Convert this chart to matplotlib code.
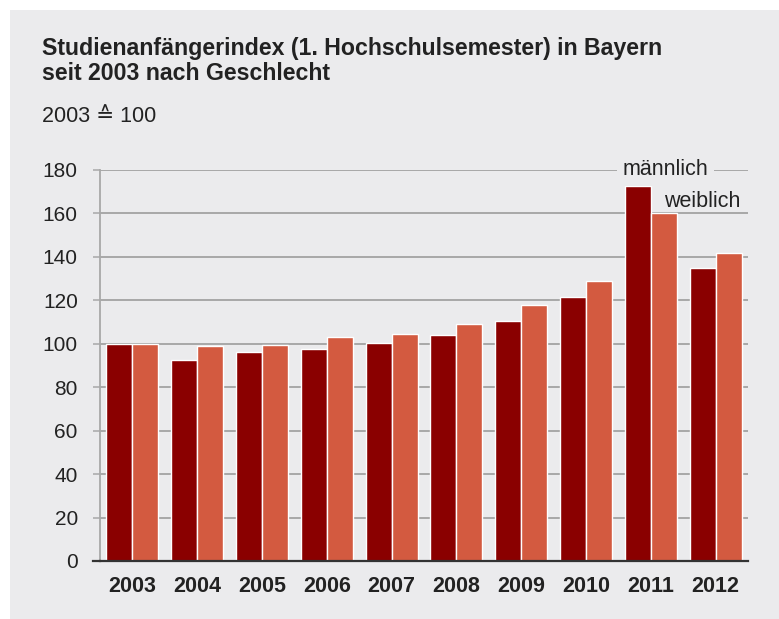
import numpy as np
import matplotlib
matplotlib.use("Agg")
import matplotlib.pyplot as plt
from matplotlib.patches import Rectangle

BG = "#EBEBED"
INK = "#222222"
GRID = "#A8A8A8"
MALE = "#8A0000"
FEMALE = "#D35A40"

years = ["2003", "2004", "2005", "2006", "2007", "2008", "2009", "2010", "2011", "2012"]
maennlich = [100.0, 92.6, 96.0, 97.7, 100.2, 103.9, 110.6, 121.6, 172.7, 135.1]
weiblich = [100.0, 99.2, 99.5, 103.2, 104.4, 109.3, 118.0, 129.1, 160.2, 141.6]
yticks = [0, 20, 40, 60, 80, 100, 120, 140, 160, 180]

plt.rcParams["font.family"] = ["Liberation Sans", "DejaVu Sans"]

W, H = 779, 619
fig = plt.figure(figsize=(W / 100, H / 100), dpi=100, facecolor="white")
fig.patches.append(Rectangle((10 / W, 0), 1 - 10 / W, 1 - 10 / H,
                             transform=fig.transFigure, facecolor=BG,
                             edgecolor="none", zorder=-5))

ax = fig.add_axes([100 / W, (H - 561) / H, 648 / W, (561 - 170) / H])
ax.set_facecolor(BG)

x = np.arange(len(years))
w = 0.4
ax.bar(x - w / 2, maennlich, width=w, color=MALE, edgecolor="white",
       linewidth=1.0, zorder=3)
ax.bar(x + w / 2, weiblich, width=w, color=FEMALE, edgecolor="white",
       linewidth=1.0, zorder=3)

ax.set_xlim(-0.5, 9.5)
ax.set_ylim(0, 180)
ax.set_yticks(yticks)
ax.set_xticks(x)
ax.set_xticklabels(years, fontweight="bold")
ax.yaxis.grid(True, color=GRID, linewidth=1.4, zorder=1)
ax.set_axisbelow(True)
ax.tick_params(axis="y", length=5, width=1.1, color=GRID, pad=11,
               labelsize=15, labelcolor=INK)
ax.tick_params(axis="x", length=0, pad=11, labelsize=15.5, labelcolor=INK)
for name in ["top", "right"]:
    ax.spines[name].set_visible(False)
ax.spines["left"].set_color(GRID)
ax.spines["left"].set_linewidth(1.3)
ax.spines["bottom"].set_color("#333333")
ax.spines["bottom"].set_linewidth(1.6)
ax.spines["bottom"].set_zorder(4)
ax.axhline(0, xmin=-7 / 648, xmax=0, color="#333333", linewidth=1.6,
           clip_on=False, zorder=4)

# series labels
ax.text(8.23, 180, "männlich", ha="center", va="center", fontsize=15.5,
        color=INK, zorder=5,
        bbox=dict(boxstyle="square,pad=0.25", facecolor=BG, edgecolor="none"))
ax.text(8.79, 165.5, "weiblich", ha="center", va="center", fontsize=15.5,
        color=INK, zorder=5)

fig.text(42 / W, 1 - 48 / H, "Studienanfängerindex (1. Hochschulsemester) in Bayern",
         fontsize=16.7, fontweight="bold", color=INK, va="center")
fig.text(42 / W, 1 - 74 / H, "seit 2003 nach Geschlecht",
         fontsize=16.7, fontweight="bold", color=INK, va="center")
fig.text(42 / W, 1 - 116 / H, "2003 ≙ 100", fontsize=15.5, color=INK,
         va="center", family=["Liberation Sans", "DejaVu Sans"])

fig.savefig("out.png", dpi=100, facecolor="white")
